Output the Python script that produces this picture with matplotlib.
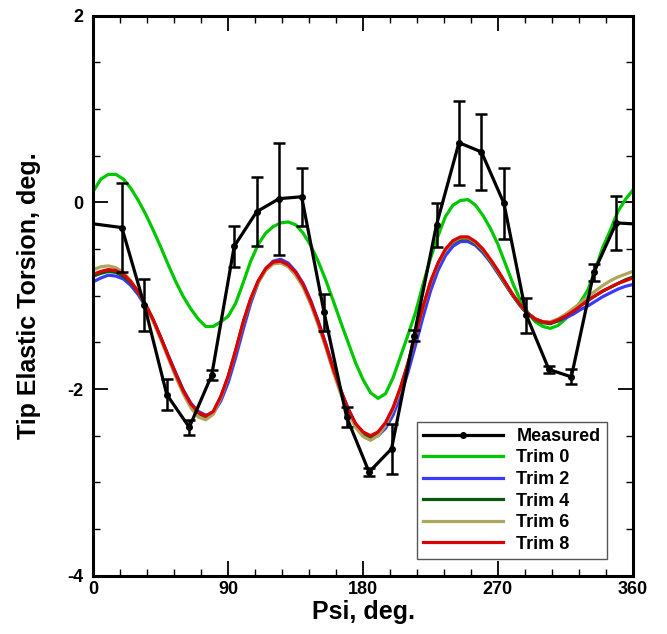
"""
Tip elastic torsion vs. azimuth: measured (with error bars) against the
predicted response for several trim iterations.
"""
import matplotlib
matplotlib.use("Agg")
import matplotlib.pyplot as plt
from matplotlib.lines import Line2D
from matplotlib.ticker import MultipleLocator

plt.rcParams["font.family"] = ["Liberation Sans", "DejaVu Sans"]
plt.rcParams["font.weight"] = "bold"
plt.rcParams["axes.unicode_minus"] = False

#── measured data ───────────────────────────────────────────────────────────
psi_meas = [19, 34, 49, 64, 79, 94, 109, 124, 139, 154, 169, 184,
            199, 214, 229, 244, 259, 274, 289, 304, 319, 334, 349]
tors_meas = [-0.27, -1.10, -2.06, -2.41, -1.85, -0.47, -0.10, 0.04, 0.06,
             -1.18, -2.30, -2.89, -2.64, -1.43, -0.24, 0.64, 0.54, -0.01,
             -1.21, -1.79, -1.87, -0.75, -0.22]
err_meas = [0.48, 0.28, 0.17, 0.08, 0.05, 0.22, 0.37, 0.60, 0.31, 0.20,
            0.11, 0.04, 0.27, 0.06, 0.235, 0.45, 0.41, 0.38, 0.19, 0.04,
            0.08, 0.09, 0.29]
#periodic wrap: line continues to both plot edges
psi_edge = [0, 360]
tors_edge = [-0.23, -0.23]

#── predictions (5 deg grid) ────────────────────────────────────────────────
psi = list(range(0, 361, 5))

trim0 = [0.12, 0.25, 0.30, 0.30, 0.25, 0.15, 0.02, -0.13, -0.30, -0.48,
         -0.67, -0.85, -1.01, -1.14, -1.25, -1.33, -1.33, -1.28, -1.22, -1.08,
         -0.86, -0.63, -0.45, -0.33, -0.26, -0.22, -0.21, -0.24, -0.33, -0.46,
         -0.63, -0.83, -1.05, -1.28, -1.50, -1.72, -1.90, -2.04, -2.10, -2.05,
         -1.88, -1.65, -1.42, -1.18, -0.88, -0.60, -0.36, -0.15, -0.03, 0.02,
         0.03, -0.03, -0.14, -0.28, -0.45, -0.66, -0.87, -1.05, -1.18, -1.28,
         -1.33, -1.35, -1.32, -1.25, -1.17, -1.07, -0.94, -0.72, -0.48, -0.30,
         -0.10, 0.03, 0.13]

trim2 = [-0.85, -0.81, -0.78, -0.79, -0.82, -0.89, -0.99, -1.12, -1.27, -1.45,
         -1.64, -1.83, -2.01, -2.15, -2.24, -2.28, -2.26, -2.13, -1.93, -1.66,
         -1.36, -1.08, -0.86, -0.71, -0.63, -0.61, -0.65, -0.74, -0.87, -1.05,
         -1.27, -1.51, -1.77, -2.01, -2.21, -2.38, -2.48, -2.52, -2.50, -2.42,
         -2.28, -2.07, -1.82, -1.53, -1.23, -0.95, -0.73, -0.57, -0.47, -0.42,
         -0.42, -0.46, -0.54, -0.64, -0.76, -0.88, -1.00, -1.11, -1.19, -1.25,
         -1.28, -1.29, -1.27, -1.24, -1.20, -1.15, -1.11, -1.06, -1.01, -0.97,
         -0.93, -0.90, -0.88]

trim4 = [-0.79, -0.76, -0.74, -0.75, -0.79, -0.86, -0.97, -1.10, -1.26, -1.45,
         -1.65, -1.84, -2.02, -2.17, -2.26, -2.30, -2.25, -2.09, -1.87, -1.59,
         -1.29, -1.04, -0.85, -0.72, -0.65, -0.64, -0.68, -0.76, -0.89, -1.07,
         -1.29, -1.53, -1.79, -2.02, -2.22, -2.38, -2.48, -2.52, -2.48, -2.37,
         -2.21, -1.99, -1.73, -1.43, -1.13, -0.86, -0.66, -0.51, -0.43, -0.39,
         -0.39, -0.44, -0.52, -0.63, -0.75, -0.88, -1.00, -1.11, -1.20, -1.26,
         -1.29, -1.30, -1.27, -1.22, -1.17, -1.11, -1.05, -1.00, -0.95, -0.91,
         -0.87, -0.83, -0.80]

trim6 = [-0.72, -0.69, -0.68, -0.70, -0.75, -0.84, -0.96, -1.11, -1.28, -1.47,
         -1.67, -1.87, -2.05, -2.20, -2.30, -2.33, -2.27, -2.10, -1.87, -1.59,
         -1.29, -1.04, -0.86, -0.73, -0.66, -0.65, -0.69, -0.78, -0.91, -1.09,
         -1.31, -1.55, -1.81, -2.05, -2.25, -2.41, -2.51, -2.55, -2.50, -2.39,
         -2.22, -2.00, -1.73, -1.43, -1.13, -0.86, -0.66, -0.51, -0.42, -0.38,
         -0.38, -0.43, -0.51, -0.62, -0.74, -0.87, -0.99, -1.10, -1.19, -1.25,
         -1.28, -1.28, -1.25, -1.20, -1.14, -1.08, -1.01, -0.95, -0.89, -0.84,
         -0.80, -0.77, -0.74]

trim8 = [-0.77, -0.74, -0.72, -0.73, -0.77, -0.85, -0.96, -1.10, -1.26, -1.45,
         -1.65, -1.84, -2.02, -2.16, -2.25, -2.29, -2.24, -2.08, -1.86, -1.58,
         -1.28, -1.03, -0.84, -0.71, -0.64, -0.63, -0.67, -0.75, -0.88, -1.06,
         -1.28, -1.52, -1.78, -2.01, -2.21, -2.37, -2.46, -2.50, -2.46, -2.36,
         -2.20, -1.98, -1.72, -1.42, -1.12, -0.85, -0.65, -0.50, -0.41, -0.37,
         -0.37, -0.42, -0.50, -0.61, -0.73, -0.86, -0.99, -1.10, -1.19, -1.25,
         -1.28, -1.29, -1.26, -1.22, -1.17, -1.11, -1.05, -1.00, -0.95, -0.91,
         -0.87, -0.84, -0.81]

trim_series = [
    ("Trim 0", trim0, "#00c800"),
    ("Trim 2", trim2, "#3a3aff"),
    ("Trim 4", trim4, "#0b5a0b"),
    ("Trim 6", trim6, "#aca65e"),
    ("Trim 8", trim8, "#dc0000"),
]


def main():
    fig = plt.figure(figsize=(6.67, 6.34), dpi=100)
    ax = fig.add_axes([0.14, 0.092, 0.8087, 0.8832])

    handles = {}
    for label, vals, color in trim_series:
        ln, = ax.plot(psi, vals, color=color, lw=2.3, label=label, zorder=2)
        handles[label] = ln

    #measured: line through the edges, markers + error bars only at real points
    ax.plot([psi_edge[0]] + psi_meas + [psi_edge[1]],
            [tors_edge[0]] + tors_meas + [tors_edge[1]],
            color="black", lw=2.3, zorder=4)
    ax.errorbar(psi_meas, tors_meas, yerr=err_meas, fmt="none", ecolor="black",
                elinewidth=1.8, capsize=4.5, capthick=1.8, zorder=4)
    ax.plot(psi_meas, tors_meas, color="black", ls="none", marker="o",
            ms=4, zorder=5)
    meas_handle = Line2D([], [], color="black", lw=2.3, marker="o", ms=4)

    ax.set_xlim(0, 360)
    ax.set_ylim(-4, 2)
    ax.xaxis.set_major_locator(MultipleLocator(90))
    ax.xaxis.set_minor_locator(MultipleLocator(18))
    ax.yaxis.set_major_locator(MultipleLocator(2))
    ax.yaxis.set_minor_locator(MultipleLocator(0.5))
    ax.tick_params(which="both", direction="in", top=True, right=True,
                   width=1.3, labelsize=13)
    ax.tick_params(which="major", length=11)
    ax.tick_params(which="minor", length=5, width=1.0)
    ax.tick_params(axis="x", pad=4)
    ax.tick_params(axis="y", pad=7)
    for lab in ax.get_xticklabels() + ax.get_yticklabels():
        lab.set_fontweight("bold")
    for sp in ax.spines.values():
        sp.set_linewidth(2.2)

    ax.set_xlabel("Psi, deg.", fontsize=18, fontweight="bold", labelpad=1)
    ax.set_ylabel("Tip Elastic Torsion, deg.", fontsize=18, fontweight="bold",
                  labelpad=19)

    order = [meas_handle] + [handles[s[0]] for s in trim_series]
    labels = ["Measured"] + [s[0] for s in trim_series]
    leg = ax.legend(order, labels, loc="lower right",
                    bbox_to_anchor=(0.952, 0.03), borderaxespad=0,
                    fontsize=13, handlelength=4.4, handletextpad=0.75,
                    labelspacing=0.25, borderpad=0.35, fancybox=False,
                    framealpha=1, edgecolor="#555555")
    leg.get_frame().set_linewidth(1.0)
    for t in leg.get_texts():
        t.set_fontweight("bold")

    fig.savefig("out.png", dpi=100)
    plt.close(fig)


if __name__ == "__main__":
    main()
